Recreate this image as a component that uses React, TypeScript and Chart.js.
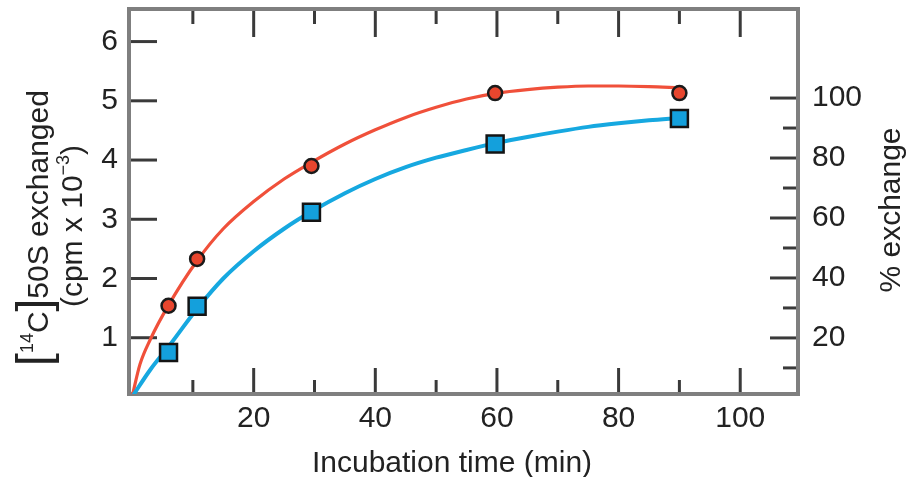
import { useEffect, useRef } from 'react';
import { Chart, registerables } from 'chart.js';

Chart.register(...registerables);

// Measured points (incubation time in min, [14C]50S exchanged in cpm x 10^-3)
const timeMin = [6, 10.7, 29.5, 59.7, 90];
const redMeasured = [1.54, 2.33, 3.9, 5.13, 5.13];
const blueMeasured = [0.75, 1.53, 3.12, 4.27, 4.7];

// Fitted curves
const redCurveTime = [0, 1.3, 3, 6, 10.7, 15, 20, 25, 29.5, 35, 40, 45, 50, 55, 60, 65, 70, 75, 80, 85, 90];
const redCurveValue = [0, 0.55, 0.97, 1.55, 2.3, 2.84, 3.3, 3.68, 3.96, 4.27, 4.51, 4.72, 4.89, 5.03, 5.13, 5.19, 5.23, 5.25, 5.25, 5.24, 5.22];
const blueCurveTime = [0, 3, 6, 10.7, 15, 20, 25, 29.5, 35, 40, 45, 50, 55, 60, 65, 70, 75, 80, 85, 90];
const blueCurveValue = [0, 0.46, 0.85, 1.49, 2.0, 2.46, 2.84, 3.13, 3.44, 3.68, 3.88, 4.04, 4.17, 4.29, 4.39, 4.48, 4.56, 4.62, 4.67, 4.71];

// Ticks
const xLabelTicks = [20, 40, 60, 80, 100];
const xMinorTicks = [10, 30, 50, 70, 90];
const leftTicks = [1, 2, 3, 4, 5, 6];
const rightLabelTicks = [20, 40, 60, 80, 100];
const rightMinorTicks = [10, 30, 50, 70, 90];

const FONT = '"Liberation Sans", Arial, Helvetica, sans-serif';
const TEXT = '#222222';

const pts = (xs: number[], ys: number[]) => xs.map((x, i) => ({ x, y: ys[i] }));

const noPad = (scale: any) => {
  scale.paddingTop = 0;
  scale.paddingBottom = 0;
  scale.paddingLeft = 0;
  scale.paddingRight = 0;
};

const decor = {
  id: 'decor',
  beforeDatasetsDraw(chart: any) {
    const { ctx, chartArea: a, scales } = chart;
    const sx = scales.x, sy = scales.y, sy2 = scales.y2;
    ctx.save();
    ctx.strokeStyle = '#3a3a3a';
    ctx.lineWidth = 3;
    const seg = (x1: number, y1: number, x2: number, y2: number) => {
      ctx.beginPath();
      ctx.moveTo(x1, y1);
      ctx.lineTo(x2, y2);
      ctx.stroke();
    };
    xLabelTicks.forEach((v) => {
      const p = sx.getPixelForValue(v);
      seg(p, a.bottom, p, a.bottom - 26);
      seg(p, a.top, p, a.top + 28);
    });
    xMinorTicks.forEach((v) => {
      const p = sx.getPixelForValue(v);
      seg(p, a.bottom, p, a.bottom - 14);
      seg(p, a.top, p, a.top + 15);
    });
    leftTicks.forEach((v) => {
      const p = sy.getPixelForValue(v);
      seg(a.left, p, a.left + 28, p);
    });
    rightLabelTicks.forEach((v) => {
      const p = sy2.getPixelForValue(v);
      seg(a.right, p, a.right - 28, p);
    });
    rightMinorTicks.forEach((v) => {
      const p = sy2.getPixelForValue(v);
      seg(a.right, p, a.right - 15, p);
    });
    ctx.strokeStyle = '#7f7f7f';
    ctx.lineWidth = 4;
    ctx.strokeRect(a.left, a.top, a.right - a.left, a.bottom - a.top);
    ctx.restore();
  },
  afterDraw(chart: any) {
    const { ctx } = chart;
    ctx.save();
    ctx.fillStyle = TEXT;
    ctx.textBaseline = 'alphabetic';
    ctx.font = `30px ${FONT}`;
    ctx.textAlign = 'center';
    ctx.fillText('Incubation time (min)', 452, 472);

    type Part = { t: string; size: number; raise: number };
    const drawRot = (parts: Part[], baseX: number, centerY: number) => {
      ctx.save();
      ctx.translate(baseX, centerY);
      ctx.rotate(-Math.PI / 2);
      ctx.textAlign = 'left';
      let total = 0;
      const widths = parts.map((p) => {
        ctx.font = `${p.size}px ${FONT}`;
        const w = ctx.measureText(p.t).width;
        total += w;
        return w;
      });
      let cx = -total / 2;
      parts.forEach((p, i) => {
        ctx.font = `${p.size}px ${FONT}`;
        ctx.fillText(p.t, cx, -p.raise);
        cx += widths[i];
      });
      ctx.restore();
    };
    drawRot(
      [
        { t: '[', size: 46, raise: -1 },
        { t: '14', size: 18, raise: 15 },
        { t: 'C', size: 30, raise: 0 },
        { t: ']', size: 46, raise: -1 },
        { t: '50S exchanged', size: 30, raise: 0 },
      ],
      48,
      228
    );
    drawRot(
      [
        { t: '(cpm x 10', size: 30, raise: 0 },
        { t: '\u22123', size: 18, raise: 13 },
        { t: ')', size: 30, raise: 0 },
      ],
      82,
      226
    );
    drawRot([{ t: '% exchange', size: 30, raise: 0 }], 900, 210);
    ctx.restore();
  },
};

export default function App() {
  const ref = useRef<HTMLCanvasElement | null>(null);
  useEffect(() => {
    if (!ref.current) return;
    const tickFont = { family: FONT, size: 30 };
    const chart = new Chart(ref.current, {
      type: 'line',
      data: {
        datasets: [
          {
            label: 'red fit',
            data: pts(redCurveTime, redCurveValue),
            borderColor: 'rgb(240,80,58)',
            borderWidth: 3.2,
            pointRadius: 0,
            cubicInterpolationMode: 'monotone',
            fill: false,
            order: 4,
          },
          {
            label: 'blue fit',
            data: pts(blueCurveTime, blueCurveValue),
            borderColor: 'rgb(22,168,224)',
            borderWidth: 4,
            pointRadius: 0,
            cubicInterpolationMode: 'monotone',
            fill: false,
            order: 3,
          },
          {
            label: 'blue measured',
            data: pts(timeMin, blueMeasured),
            showLine: false,
            pointStyle: 'rect',
            pointRadius: 12,
            pointBackgroundColor: 'rgb(20,160,220)',
            pointBorderColor: '#141414',
            pointBorderWidth: 2.5,
            order: 2,
          },
          {
            label: 'red measured',
            data: pts(timeMin, redMeasured),
            showLine: false,
            pointStyle: 'circle',
            pointRadius: 7,
            pointBackgroundColor: 'rgb(232,70,46)',
            pointBorderColor: '#1a1a1a',
            pointBorderWidth: 2.5,
            order: 1,
          },
        ],
      },
      options: {
        responsive: false,
        animation: false,
        events: [],
        layout: { autoPadding: false, padding: { top: 9, left: 0, right: 0, bottom: 0 } },
        plugins: { legend: { display: false }, tooltip: { enabled: false }, title: { display: false } },
        scales: {
          x: {
            type: 'linear',
            position: 'bottom',
            min: -0.5,
            max: 109.5,
            grid: { display: false, drawTicks: false },
            border: { display: false },
            ticks: { font: tickFont, color: TEXT, padding: 7, maxRotation: 0 },
            afterBuildTicks: (axis: any) => {
              axis.ticks = xLabelTicks.map((value) => ({ value }));
            },
            afterFit: (scale: any) => {
              scale.height = 83;
              noPad(scale);
            },
          },
          y: {
            type: 'linear',
            position: 'left',
            min: 0.05,
            max: 6.55,
            grid: { display: false, drawTicks: false },
            border: { display: false },
            ticks: { font: tickFont, color: TEXT, padding: 11 },
            afterBuildTicks: (axis: any) => {
              axis.ticks = leftTicks.map((value) => ({ value }));
            },
            afterFit: (scale: any) => {
              scale.width = 129;
              noPad(scale);
            },
          },
          y2: {
            type: 'linear',
            position: 'right',
            min: 1.3,
            max: 129.7,
            grid: { display: false, drawTicks: false },
            border: { display: false },
            ticks: { font: tickFont, color: TEXT, padding: 14 },
            afterBuildTicks: (axis: any) => {
              axis.ticks = rightLabelTicks.map((value) => ({ value }));
            },
            afterFit: (scale: any) => {
              scale.width = 109;
              noPad(scale);
            },
          },
        },
      } as any,
      plugins: [decor],
    });
    return () => chart.destroy();
  }, []);
  return (
    <div style={{ position: 'fixed', left: 0, top: 0, width: 907, height: 477, background: '#fff' }}>
      <canvas ref={ref} width={907} height={477} style={{ display: 'block', width: 907, height: 477 }} />
    </div>
  );
}
